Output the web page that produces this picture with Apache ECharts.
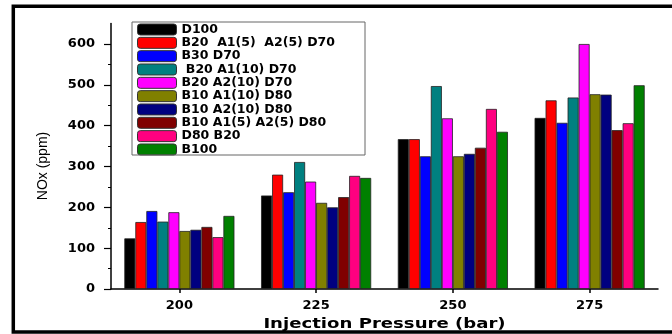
<!DOCTYPE html>
<html>
<head>
<meta charset="utf-8">
<script src="https://cdn.jsdelivr.net/npm/echarts@6/dist/echarts.min.js"></script>
<style>
  html, body { margin: 0; padding: 0; background: #fff; }
  #chart { width: 672px; height: 334px; }
</style>
</head>
<body>
<div id="chart"></div>
<script>
// Injection pressure groups on the x axis
const pressures = ['200', '225', '250', '275'];

// Fuel blends, one bar series each
const blendNames = [
  'D100',
  'B20  A1(5)  A2(5) D70',
  'B30 D70',
  ' B20 A1(10) D70',
  'B20 A2(10) D70',
  'B10 A1(10) D80',
  'B10 A2(10) D80',
  'B10 A1(5) A2(5) D80',
  'D80 B20',
  'B100'
];
const blendColors = ['#000000', '#ff0000', '#0000ff', '#008080', '#ff00ff',
                     '#808000', '#000080', '#800000', '#ff0080', '#008000'];

// NOx (ppm) per blend at 200, 225, 250, 275 bar
const noxD100      = [124, 229, 367, 419];
const noxB20A1A2   = [164, 280, 367, 462];
const noxB30       = [191, 237, 325, 407];
const noxB20A1     = [165, 311, 497, 469];
const noxB20A2     = [188, 263, 418, 600];
const noxB10A1     = [142, 211, 325, 477];
const noxB10A2     = [145, 200, 331, 476];
const noxB10A1A2   = [152, 225, 346, 389];
const noxD80B20    = [127, 277, 441, 406];
const noxB100      = [179, 272, 385, 499];
const noxSeries = [noxD100, noxB20A1A2, noxB30, noxB20A1, noxB20A2,
                   noxB10A1, noxB10A2, noxB10A1A2, noxD80B20, noxB100];

// Y axis labels
const yTicks = [0, 100, 200, 300, 400, 500, 600];

const tickFont = { fontFamily: 'DejaVu Sans', fontWeight: 'bold', fontSize: 13, color: '#000' };

const chart = echarts.init(document.getElementById('chart'), null, { renderer: 'canvas' });

chart.setOption({
  animation: false,
  backgroundColor: '#fff',
  grid: { left: 111, right: 14, top: 23.6, bottom: 45 },
  legend: {
    orient: 'vertical',
    left: 137,
    top: 23,
    padding: 0,
    itemWidth: 39,
    itemHeight: 11,
    itemGap: 0.33,
    selectedMode: false,
    data: blendNames,
    itemStyle: { borderColor: '#333', borderWidth: 1 },
    textStyle: {
      fontFamily: 'DejaVu Sans', fontWeight: 'bold', fontSize: 12.5,
      color: '#000'
    }
  },
  xAxis: {
    type: 'category',
    data: pressures,
    axisLine: { lineStyle: { color: '#000', width: 1.5 } },
    axisTick: { show: true, alignWithLabel: true, length: 4, lineStyle: { color: '#000', width: 1.5 } },
    axisLabel: Object.assign({ margin: 10 }, tickFont),
    splitLine: { show: false }
  },
  yAxis: {
    type: 'value',
    min: 0,
    max: 650,
    interval: 100,
    axisLine: { show: true, lineStyle: { color: '#000', width: 1.5 } },
    axisTick: { show: true, length: 7, customValues: yTicks, lineStyle: { color: '#000', width: 1.2 } },
    minorTick: { show: true, splitNumber: 2, length: 3, lineStyle: { color: '#000', width: 1 } },
    axisLabel: Object.assign({ margin: 16, customValues: yTicks }, tickFont),
    splitLine: { show: false }
  },
  series: noxSeries.map((vals, i) => ({
    name: blendNames[i],
    type: 'bar',
    data: vals,
    barGap: '0%',
    barCategoryGap: '19.5%',
    itemStyle: { color: blendColors[i], borderColor: '#222', borderWidth: 0.8 }
  })),
  graphic: [
    // outer frame
    { type: 'rect', shape: { x: 13.3, y: 6.3, width: 700, height: 325.7 },
      style: { fill: 'none', stroke: '#000', lineWidth: 3.5 }, silent: true },
    // legend box
    { type: 'rect', shape: { x: 132, y: 22, width: 233, height: 133 },
      style: { fill: 'none', stroke: '#666', lineWidth: 1 }, silent: true, z: 10 },
    // axis titles
    { type: 'text', x: 43, y: 166, rotation: Math.PI / 2,
      style: { text: 'NOx (ppm)', fontFamily: 'Liberation Sans', fontSize: 14,
               fill: '#000', align: 'center', verticalAlign: 'middle' } },
    { type: 'text', x: 384.5, y: 324.5, scaleX: 1.34,
      style: { text: 'Injection Pressure (bar)', fontFamily: 'DejaVu Sans', fontWeight: 'bold',
               fontSize: 13.5, fill: '#000', align: 'center', verticalAlign: 'middle' } }
  ]
});
</script>
</body>
</html>
